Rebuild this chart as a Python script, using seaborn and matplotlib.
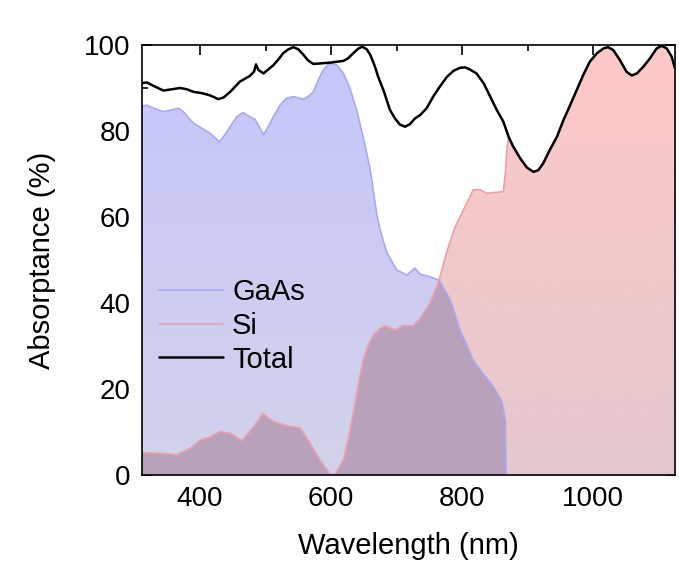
import seaborn as sns
import matplotlib.pyplot as plt
import numpy as np

# valeurs (nm, %)
total_nm = [311, 318.6, 329, 344, 357, 369.5, 380, 390, 403, 415, 428, 436, 446, 461, 476,
            482.5, 485.5, 489, 497, 504, 512, 520, 527, 535, 542.5, 550, 558, 565, 573,
            583, 598.5, 619, 626, 634, 642, 648, 654.5, 660, 667, 672, 680, 690, 697.7,
            705, 713, 720.6, 728, 736, 746, 756, 766, 777, 787, 797, 805, 812, 822, 833,
            843, 853, 863, 871, 878, 889, 899, 909, 916.5, 924, 934, 945, 955, 965, 975,
            985, 995, 1006, 1016, 1023, 1031, 1041, 1051, 1059, 1067, 1077, 1087, 1097,
            1105, 1112.5, 1120, 1125]
total_abs = [91.1, 91.3, 90.5, 89.4, 89.7, 90.0, 89.7, 89.1, 88.8, 88.3, 87.4, 87.8, 89.1,
             91.5, 92.8, 93.8, 95.5, 94.2, 93.4, 94.3, 95.3, 96.7, 98.1, 99.0, 99.5, 99.0,
             97.7, 96.4, 95.6, 95.7, 95.9, 96.3, 96.9, 98.1, 99.2, 99.6, 99.0, 97.7, 95.0,
             92.6, 89.5, 84.9, 82.9, 81.5, 81.0, 81.6, 82.9, 83.7, 85.3, 88.0, 90.3, 92.6,
             94.0, 94.7, 94.8, 94.3, 93.4, 91.1, 88.0, 84.9, 82.2, 78.7, 76.4, 73.6, 71.5,
             70.5, 70.9, 72.5, 75.6, 78.7, 82.6, 86.0, 89.5, 93.0, 96.1, 98.1, 99.2, 99.5,
             98.8, 96.5, 93.8, 92.9, 93.4, 95.0, 96.9, 99.2, 99.8, 99.2, 97.3, 94.6]

gaas_nm = [311, 318.6, 329, 344, 357, 367, 374.5, 390, 403, 415, 429.5, 438, 446, 456, 466,
           476, 484, 489, 497, 504, 512, 522, 532, 542.5, 558, 565, 573, 580.6, 588, 596,
           601, 609, 619, 629, 639, 649, 660, 670, 675, 685, 700, 716, 728, 736, 751, 765,
           782, 797, 817, 832, 848, 861, 866, 867]
gaas_abs = [85.7, 86.0, 85.3, 84.5, 84.9, 85.3, 84.5, 81.8, 80.6, 79.5, 77.5, 79.1, 81.0,
            83.3, 84.3, 83.3, 82.7, 81.4, 79.1, 81.0, 83.3, 86.0, 87.6, 88.0, 87.4, 88.0,
            89.1, 91.9, 94.2, 95.5, 95.7, 95.3, 93.4, 89.9, 84.9, 78.7, 70.9, 60.5, 57.0,
            51.8, 47.7, 46.5, 48.1, 46.7, 46.1, 45.3, 40.7, 33.7, 26.7, 23.6, 20.5, 17.0,
            12.8, 0.0]

si_nm = [311, 344, 364, 385, 400, 415, 430, 446, 464, 482, 496, 512, 532, 553, 568, 583,
         598, 606, 619, 626, 634, 642, 649, 657, 665, 675, 682, 698, 710, 726, 736, 751,
         765, 776, 789, 802, 817, 827, 838, 850, 863, 866, 869, 871, 878, 889, 899, 909,
         916.5, 924, 934, 945, 955, 965, 975, 985, 995, 1006, 1016, 1023, 1031, 1041,
         1051, 1059, 1067, 1077, 1087, 1097, 1105, 1112.5, 1120, 1125]
si_abs = [5.2, 5.0, 4.7, 6.2, 8.1, 8.8, 10.1, 9.7, 8.0, 11.2, 14.3, 12.4, 11.5, 10.9, 7.4,
          3.5, 0.4, 0.0, 3.5, 8.1, 14.3, 21.3, 26.7, 30.2, 32.6, 34.1, 34.7, 33.7, 34.7,
          34.7, 36.4, 39.9, 45.3, 51.6, 57.5, 61.6, 66.3, 66.4, 65.5, 65.7, 65.9, 70.0,
          76.5, 78.7, 76.4, 73.6, 71.5, 70.5, 70.9, 72.5, 75.6, 78.7, 82.6, 86.0, 89.5,
          93.0, 96.1, 98.1, 99.2, 99.5, 98.8, 96.5, 93.8, 92.9, 93.4, 95.0, 96.9, 99.2,
          99.8, 99.2, 97.3, 94.6]

sns.set_theme(style="ticks")
plt.rcParams["font.family"] = ["Liberation Sans", "DejaVu Sans"]
plt.rcParams["text.color"] = "black"
plt.rcParams["axes.labelcolor"] = "black"
plt.rcParams["xtick.color"] = "black"
plt.rcParams["ytick.color"] = "black"

XMIN, XMAX = 311, 1125

fig = plt.figure(figsize=(6.79, 5.61), dpi=100)
ax = fig.add_axes([0.2087, 0.1533, 0.7853, 0.7665])


def gradient(poly, top, bottom, z):
    # dégradé vertical découpé sur la surface remplie
    t = np.linspace(0, 1, 256)[:, None, None]
    img = np.array(top)[None, None, :] / 255 * (1 - t) + np.array(bottom)[None, None, :] / 255 * t
    im = ax.imshow(img, extent=[XMIN, XMAX, 0, 100], aspect="auto", origin="upper", zorder=z)
    im.set_clip_path(poly.get_paths()[0], poly.get_transform())
    poly.set_visible(False)


# remplissages : bleu, rouge, puis zone commune
gaas_fill = ax.fill_between(gaas_nm, 0, gaas_abs, color="#c8c8f8", lw=0, zorder=1)
gradient(gaas_fill, (198, 198, 252), (210, 210, 234), 1)
si_fill = ax.fill_between(si_nm, 0, si_abs, color="#f6c8c9", lw=0, zorder=1.1)
gradient(si_fill, (255, 200, 200), (228, 200, 205), 1.1)
over = ax.fill_between(gaas_nm, 0, gaas_abs, color="#b9a0bb", lw=0, zorder=1.2)
over.set_clip_path(si_fill.get_paths()[0], si_fill.get_transform())

sns.lineplot(x=gaas_nm, y=gaas_abs, ax=ax, color="#a8a8f4", lw=1.2, label="GaAs",
             sort=False, zorder=2)
sns.lineplot(x=si_nm, y=si_abs, ax=ax, color="#eaa0ae", lw=1.2, label="Si",
             sort=False, zorder=2)
sns.lineplot(x=total_nm, y=total_abs, ax=ax, color="black", lw=1.8, label="Total",
             sort=False, zorder=3)

ax.set_xlim(XMIN, XMAX)
ax.set_ylim(0, 100)
ax.set_xticks([400, 600, 800, 1000])
ax.set_xticks([500, 700, 900, 1100], minor=True)
ax.set_yticks([0, 20, 40, 60, 80, 100])
ax.set_yticks([10, 30, 50, 70, 90], minor=True)
ax.tick_params(which="both", direction="in", top=True, right=True, labelsize=20,
               color="black", width=1.2, pad=8)
ax.tick_params(which="major", length=7)
ax.tick_params(which="minor", length=4)
for s in ax.spines.values():
    s.set_color("black")
    s.set_linewidth(1.2)

ax.set_xlabel("Wavelength (nm)", fontsize=21, labelpad=14)
ax.set_ylabel("Absorptance (%)", fontsize=21, labelpad=20)

ax.legend(loc="center left", bbox_to_anchor=(0.0, 0.347), frameon=False, fontsize=21,
          handlelength=2.2, handletextpad=0.3, labelspacing=0.2, borderaxespad=0.2)

plt.savefig("out.png", dpi=100)
